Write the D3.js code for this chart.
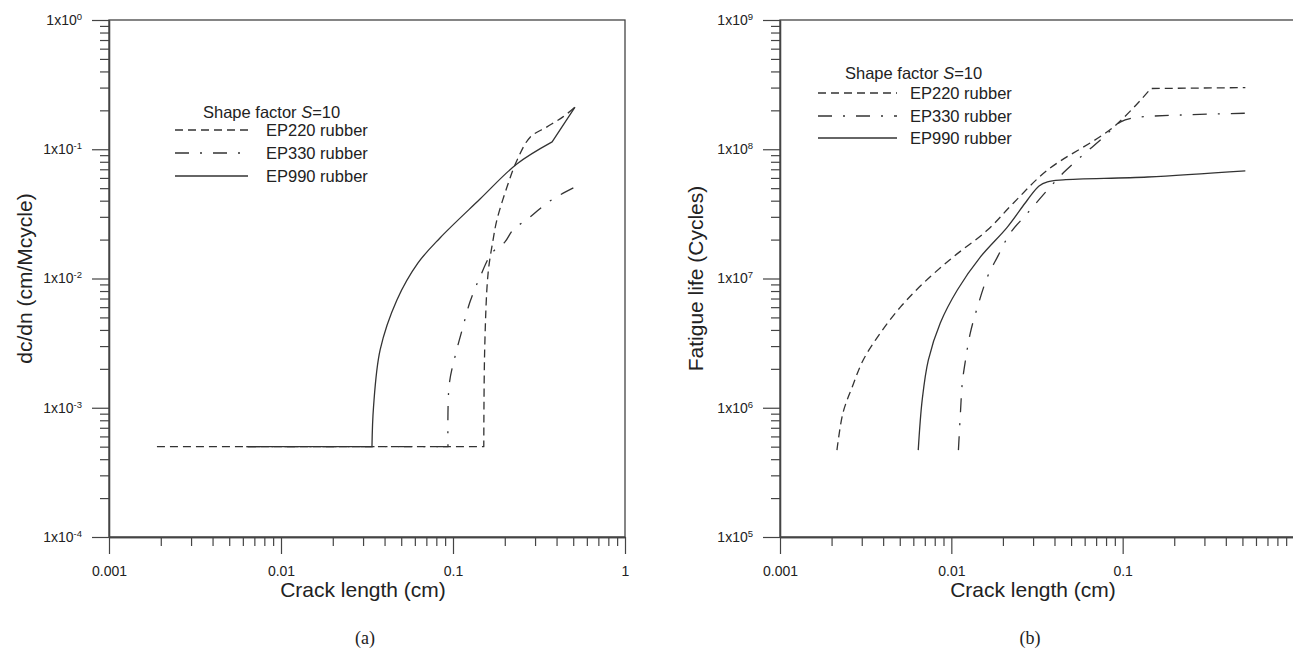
<!DOCTYPE html>
<html>
<head>
<meta charset="utf-8">
<script src="https://cdn.jsdelivr.net/npm/d3@7"></script>
<style>
  body { margin: 0; background: #fff; }
  svg { display: block; }
</style>
</head>
<body>
<svg id="chart" width="1293" height="648"></svg>
<script>
// CRACK LENGTH TICKS (cm), shared by both panels
const xTickValues = [0.001, 0.01, 0.1, 1];
const xTickLabelsA = ["0.001", "0.01", "0.1", "1"];
const xTickLabelsB = ["0.001", "0.01", "0.1", ""]; // "1" falls off the picture edge
const seriesNames = ["EP220 rubber", "EP330 rubber", "EP990 rubber"];

// PANEL (a) : dc/dn (cm/Mcycle) vs crack length
const yTicksA = [1e-4, 1e-3, 1e-2, 1e-1, 1];
const yExpA = ["-4", "-3", "-2", "-1", "0"];
const ep220A = [[0.0019, 5e-4], [0.151, 5e-4], [0.153, 0.003], [0.160, 0.011], [0.171, 0.0199],
  [0.180, 0.0284], [0.206, 0.051], [0.236, 0.0826], [0.281, 0.124], [0.352, 0.149],
  [0.436, 0.178], [0.512, 0.212]];
const ep330A = [[0.0063, 5e-4], [0.0935, 5e-4], [0.095, 0.0015], [0.1028, 0.0025], [0.113, 0.004],
  [0.1256, 0.0066], [0.1436, 0.0103], [0.1686, 0.0158], [0.200, 0.0191], [0.223, 0.0237],
  [0.281, 0.0299], [0.352, 0.0384], [0.419, 0.0443], [0.512, 0.051]];
const ep990A = [[0.0063, 5e-4], [0.0338, 5e-4], [0.0345, 0.00101], [0.0377, 0.0028], [0.0472, 0.00682],
  [0.0626, 0.0132], [0.0840, 0.0206], [0.1436, 0.0412], [0.235, 0.0769],
  [0.377, 0.114], [0.512, 0.212]];

// PANEL (b) : fatigue life (cycles) vs crack length
const yTicksB = [1e5, 1e6, 1e7, 1e8, 1e9];
const yExpB = ["5", "6", "7", "8", "9"];
const ep220B = [[0.00215, 4.7e5], [0.00233, 9.1e5], [0.00264, 1.45e6], [0.00306, 2.34e6],
  [0.00385, 3.78e6], [0.00504, 6.0e6], [0.00686, 9.2e6], [0.01028, 1.47e7], [0.01625, 2.37e7],
  [0.02306, 3.84e7], [0.0364, 6.9e7], [0.0886, 1.49e8], [0.146, 2.95e8], [0.52, 3.0e8]];
const ep330B = [[0.0110, 4.7e5], [0.0113, 9.1e5], [0.01159, 1.56e6], [0.0121, 2.34e6],
  [0.0129, 3.78e6], [0.0142, 6.0e6], [0.01625, 1.03e7], [0.0186, 1.47e7], [0.0221, 2.25e7],
  [0.0278, 3.2e7], [0.0364, 4.84e7], [0.0452, 6.6e7], [0.0568, 8.7e7], [0.0774, 1.24e8],
  [0.0973, 1.63e8], [0.116, 1.75e8], [0.218, 1.84e8], [0.52, 1.9e8]];
const ep990B = [[0.00641, 4.7e5], [0.00676, 1.15e6], [0.00734, 2.34e6], [0.00862, 4.53e6],
  [0.01084, 8.15e6], [0.01479, 1.47e7], [0.02123, 2.5e7], [0.0278, 4.05e7], [0.0325, 5.2e7],
  [0.0364, 5.6e7], [0.045, 5.8e7], [0.140, 6.1e7], [0.52, 6.8e7]];

const svg = d3.select("#chart");
const SANS = "'Liberation Sans', Arial, sans-serif";
const AXIS_COLOR = "#444";
const LINE_COLOR = "#333";
const dashes = ["8,5", "14,11,2,11", null];

// minor log ticks 2..9 inside every decade
const minorTicks = (majors) => {
  const out = [];
  for (let i = 0; i < majors.length - 1; i++) {
    for (let k = 2; k < 10; k++) out.push(majors[i] * k);
  }
  return out;
};

// smooth curve through the points, kept sharp at the corner indices
const cornerPath = (line, pts, corners) => {
  const cuts = [0, ...corners, pts.length - 1];
  let d = "";
  for (let i = 0; i < cuts.length - 1; i++) {
    let s = line(pts.slice(cuts[i], cuts[i + 1] + 1));
    if (i > 0) s = s.replace(/^M[^A-Za-z]*/, "");
    d += s;
  }
  return d;
};

const drawPanel = (p) => {
  const g = svg.append("g");
  const x = d3.scaleLog().domain([0.001, 1]).range([p.left, p.right]);
  const y = d3.scaleLog().domain([p.yTicks[0], p.yTicks[p.yTicks.length - 1]]).range([p.bottom, p.top]);

  // frame (top + right)
  g.append("rect")
    .attr("x", p.left).attr("y", p.top)
    .attr("width", p.right - p.left).attr("height", p.bottom - p.top)
    .attr("fill", "none").attr("stroke", AXIS_COLOR).attr("stroke-width", 1.3);

  // X AXIS
  const xMinor = g.append("g").attr("transform", `translate(0,${p.bottom})`)
    .call(d3.axisBottom(x).tickValues(minorTicks(xTickValues)).tickSize(9).tickSizeOuter(0).tickFormat(""));
  const xMajor = g.append("g").attr("transform", `translate(0,${p.bottom})`)
    .call(d3.axisBottom(x).tickValues(xTickValues).tickSize(17).tickSizeOuter(0).tickPadding(12)
      .tickFormat((d, i) => p.xLabels[i]));

  // Y AXIS
  const yMinor = g.append("g").attr("transform", `translate(${p.left},0)`)
    .call(d3.axisLeft(y).tickValues(minorTicks(p.yTicks)).tickSize(9).tickSizeOuter(0).tickFormat(""));
  const yMajor = g.append("g").attr("transform", `translate(${p.left},0)`)
    .call(d3.axisLeft(y).tickValues(p.yTicks).tickSize(17).tickSizeOuter(0).tickPadding(10).tickFormat(""));

  yMajor.selectAll(".tick text").each(function (d, i) {
    const t = d3.select(this).text("1x10");
    t.append("tspan").attr("dy", "-0.55em").attr("font-size", 9.5).text(p.yExp[i]);
  });

  [xMinor, xMajor, yMinor, yMajor].forEach(a => {
    a.select(".domain").attr("stroke", AXIS_COLOR).attr("stroke-width", 1.3);
    a.selectAll(".tick line").attr("stroke", AXIS_COLOR).attr("stroke-width", 1.2);
    a.selectAll(".tick text").attr("font-family", SANS).attr("font-size", 14).attr("fill", "#222");
  });

  // axis titles
  g.append("text")
    .attr("x", p.xTitleX).attr("y", 597)
    .attr("text-anchor", "middle").attr("font-family", SANS).attr("font-size", 21).attr("fill", "#222")
    .text("Crack length (cm)");
  g.append("text")
    .attr("transform", `translate(${p.yTitleX},${(p.top + p.bottom) / 2}) rotate(-90)`)
    .attr("text-anchor", "middle").attr("dy", "0.35em")
    .attr("font-family", SANS).attr("font-size", 21).attr("fill", "#222")
    .text(p.yTitle);
  g.append("text")
    .attr("x", p.tagX).attr("y", 644)
    .attr("text-anchor", "middle").attr("font-family", "'Liberation Serif', 'Times New Roman', serif")
    .attr("font-size", 18).attr("fill", "#222")
    .text(p.tag);

  // CURVES
  const line = d3.line().x(d => x(d[0])).y(d => y(d[1])).curve(d3.curveCatmullRom.alpha(0.5));
  p.series.forEach((s, i) => {
    g.append("path")
      .attr("d", cornerPath(line, s, p.corners[i]))
      .attr("fill", "none")
      .attr("stroke", LINE_COLOR)
      .attr("stroke-width", 1.3)
      .attr("stroke-linejoin", "round")
      .attr("stroke-dasharray", dashes[i]);
  });

  // LEGEND
  const lg = g.append("g").attr("font-family", SANS).attr("font-size", 16.5).attr("fill", "#222");
  const title = lg.append("text").attr("x", p.legend.titleX).attr("y", p.legend.titleY + 6);
  title.append("tspan").text("Shape factor ");
  title.append("tspan").attr("font-style", "italic").text("S");
  title.append("tspan").text("=10");
  seriesNames.forEach((name, i) => {
    const ly = p.legend.rows[i];
    lg.append("line")
      .attr("x1", p.legend.x1).attr("x2", p.legend.x2)
      .attr("y1", ly).attr("y2", ly)
      .attr("stroke", LINE_COLOR).attr("stroke-width", 1.3)
      .attr("stroke-dasharray", dashes[i]);
    lg.append("text").attr("x", p.legend.textX).attr("y", ly + 6).text(name);
  });
};

drawPanel({
  left: 109, right: 625, top: 20, bottom: 537,
  yTicks: yTicksA, yExp: yExpA, xLabels: xTickLabelsA,
  series: [ep220A, ep330A, ep990A],
  corners: [[1], [1], [1, 9]],
  yTitle: "dc/dn (cm/Mcycle)", yTitleX: 25, xTitleX: 363,
  tag: "(a)", tagX: 365,
  legend: { titleX: 203, titleY: 112, x1: 175, x2: 248, textX: 266, rows: [130, 153, 176] }
});

drawPanel({
  left: 780, right: 1294, top: 20, bottom: 537,
  yTicks: yTicksB, yExp: yExpB, xLabels: xTickLabelsB,
  series: [ep220B, ep330B, ep990B],
  corners: [[12], [], []],
  yTitle: "Fatigue life (Cycles)", yTitleX: 696, xTitleX: 1033,
  tag: "(b)", tagX: 1030,
  legend: { titleX: 845, titleY: 73, x1: 818, x2: 897, textX: 910, rows: [93, 116, 138] }
});
</script>
</body>
</html>
